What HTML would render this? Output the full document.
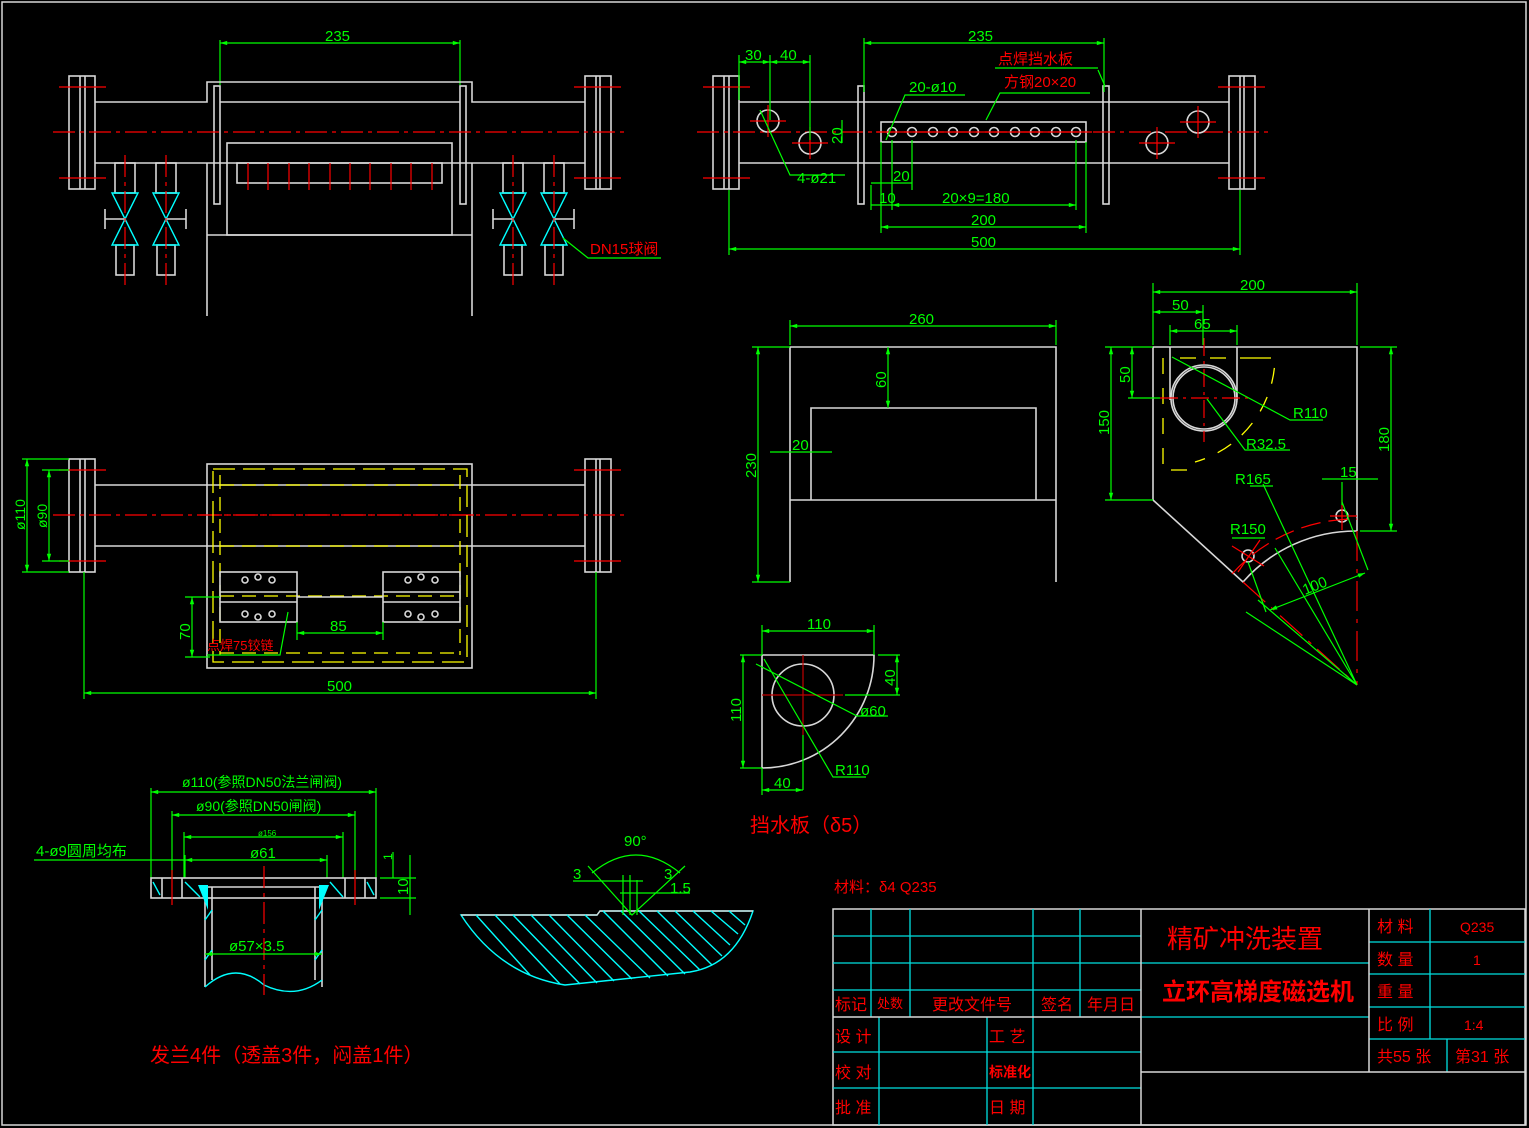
<!DOCTYPE html>
<html><head><meta charset="utf-8"><style>
html,body{margin:0;padding:0;background:#000;}
svg{display:block}
text{font-family:"Liberation Sans","Noto Sans CJK SC",sans-serif;}
.w{stroke:#d8d8d8;fill:none;stroke-width:1.6}
.g{stroke:#00ff00;fill:none;stroke-width:1.2}
.r{stroke:#ff0000;fill:none;stroke-width:1.2;stroke-dasharray:22,5,4,5}
.rs{stroke:#ff0000;fill:none;stroke-width:1.2}
.c{stroke:#00ffff;fill:none;stroke-width:1.4}
.y{stroke:#ffff00;fill:none;stroke-width:1.3;stroke-dasharray:14,8}
.gt{fill:#00ff00;font-size:15px}
.rt{fill:#ff0000;font-size:16px}
</style></head><body>
<svg width="1529" height="1128" viewBox="0 0 1529 1128" xmlns="http://www.w3.org/2000/svg">
<defs>
<marker id="a" viewBox="0 0 10 10" refX="10" refY="5" markerWidth="10" markerHeight="6" orient="auto-start-reverse"><path d="M0,2 L10,5 L0,8z" fill="#00ff00"/></marker>
</defs>
<rect x="2" y="2" width="1524" height="1123" fill="none" stroke="#d8d8d8" stroke-width="1.5"/>

<!-- ===== TOP LEFT VIEW ===== -->
<g>
<line class="g" x1="220" y1="40" x2="220" y2="85"/><line class="g" x1="460" y1="40" x2="460" y2="85"/>
<line class="g" x1="220" y1="43" x2="460" y2="43" marker-start="url(#a)" marker-end="url(#a)"/>
<text class="gt" x="325" y="41">235</text>
<rect class="w" x="69" y="76" width="26" height="113"/><line class="w" x1="80" y1="76" x2="80" y2="189"/><line class="w" x1="85" y1="76" x2="85" y2="189"/>
<rect class="w" x="585" y="76" width="26" height="113"/><line class="w" x1="596" y1="76" x2="596" y2="189"/><line class="w" x1="600" y1="76" x2="600" y2="189"/>
<line class="rs" x1="59" y1="87" x2="106" y2="87"/><line class="rs" x1="59" y1="178" x2="106" y2="178"/>
<line class="rs" x1="574" y1="87" x2="621" y2="87"/><line class="rs" x1="574" y1="178" x2="621" y2="178"/>
<path class="w" d="M95,102 H207 V82 H472 V102 H585 M95,163 H585"/>
<line class="w" x1="220" y1="102" x2="460" y2="102"/>
<rect class="w" x="214" y="86" width="6" height="118"/><rect class="w" x="460" y="86" width="6" height="118"/>
<line class="r" x1="53" y1="132" x2="627" y2="132"/>
<rect class="w" x="227" y="143" width="225" height="92"/>
<rect class="w" x="237" y="163" width="205" height="20"/>
<g class="rs"><line x1="248" y1="163" x2="248" y2="190"/><line x1="268" y1="163" x2="268" y2="190"/><line x1="289" y1="163" x2="289" y2="190"/><line x1="309" y1="163" x2="309" y2="190"/><line x1="330" y1="163" x2="330" y2="190"/><line x1="350" y1="163" x2="350" y2="190"/><line x1="370" y1="163" x2="370" y2="190"/><line x1="391" y1="163" x2="391" y2="190"/><line x1="411" y1="163" x2="411" y2="190"/><line x1="432" y1="163" x2="432" y2="190"/></g>
<path class="w" d="M207,163 V316 M472,163 V316 M207,235 H472"/>
<g>
<rect class="w" x="115" y="163" width="20" height="30"/><rect class="w" x="116" y="245" width="18" height="30"/>
<path class="c" d="M112,193 H138 L112,245 H138 Z"/>
<line class="w" x1="105" y1="219" x2="125" y2="219"/><line class="w" x1="105" y1="209" x2="105" y2="229"/>
<line class="r" x1="125" y1="155" x2="125" y2="285"/>
</g>
<g transform="translate(41,0)"><rect class="w" x="115" y="163" width="20" height="30"/><rect class="w" x="116" y="245" width="18" height="30"/><path class="c" d="M112,193 H138 L112,245 H138 Z"/><line class="w" x1="125" y1="219" x2="145" y2="219"/><line class="w" x1="145" y1="209" x2="145" y2="229"/><line class="r" x1="125" y1="155" x2="125" y2="285"/></g>
<g transform="translate(388,0)"><rect class="w" x="115" y="163" width="20" height="30"/><rect class="w" x="116" y="245" width="18" height="30"/><path class="c" d="M112,193 H138 L112,245 H138 Z"/><line class="w" x1="105" y1="219" x2="125" y2="219"/><line class="w" x1="105" y1="209" x2="105" y2="229"/><line class="r" x1="125" y1="155" x2="125" y2="285"/></g>
<g transform="translate(429,0)"><rect class="w" x="115" y="163" width="20" height="30"/><rect class="w" x="116" y="245" width="18" height="30"/><path class="c" d="M112,193 H138 L112,245 H138 Z"/><line class="w" x1="125" y1="219" x2="145" y2="219"/><line class="w" x1="145" y1="209" x2="145" y2="229"/><line class="r" x1="125" y1="155" x2="125" y2="285"/></g>
<path class="g" d="M563,238 L588,258 H661"/>
<text class="rt" x="590" y="254" style="font-size:15px">DN15球阀</text>
</g>

<!-- ===== TOP RIGHT VIEW ===== -->
<g>
<rect class="w" x="713" y="76" width="26" height="113"/><line class="w" x1="724" y1="76" x2="724" y2="189"/><line class="w" x1="729" y1="76" x2="729" y2="189"/>
<rect class="w" x="1229" y="76" width="26" height="113"/><line class="w" x1="1240" y1="76" x2="1240" y2="189"/><line class="w" x1="1244" y1="76" x2="1244" y2="189"/>
<line class="rs" x1="703" y1="87" x2="750" y2="87"/><line class="rs" x1="703" y1="178" x2="750" y2="178"/>
<line class="rs" x1="1218" y1="87" x2="1265" y2="87"/><line class="rs" x1="1218" y1="178" x2="1265" y2="178"/>
<path class="w" d="M739,102 H1229 M739,163 H1229"/>
<rect class="w" x="858" y="86" width="6" height="118"/><rect class="w" x="1103" y="86" width="6" height="118"/>
<line class="r" x1="697" y1="132" x2="1271" y2="132"/>
<circle class="w" cx="768" cy="121" r="11"/><circle class="w" cx="810" cy="143" r="11"/><circle class="w" cx="1157" cy="143" r="11"/><circle class="w" cx="1198" cy="122" r="11"/>
<g class="rs"><line x1="750" y1="121" x2="786" y2="121"/><line x1="768" y1="105" x2="768" y2="137"/><line x1="792" y1="143" x2="828" y2="143"/><line x1="810" y1="127" x2="810" y2="159"/><line x1="1139" y1="143" x2="1175" y2="143"/><line x1="1157" y1="127" x2="1157" y2="159"/><line x1="1180" y1="122" x2="1216" y2="122"/><line x1="1198" y1="106" x2="1198" y2="138"/></g>
<rect class="w" x="881" y="122" width="205" height="20"/>
<g class="w"><circle cx="892" cy="132" r="4.5"/><circle cx="912" cy="132" r="4.5"/><circle cx="933" cy="132" r="4.5"/><circle cx="953" cy="132" r="4.5"/><circle cx="974" cy="132" r="4.5"/><circle cx="994" cy="132" r="4.5"/><circle cx="1015" cy="132" r="4.5"/><circle cx="1035" cy="132" r="4.5"/><circle cx="1056" cy="132" r="4.5"/><circle cx="1076" cy="132" r="4.5"/></g>
<line class="rs" x1="876" y1="132" x2="1092" y2="132"/>
<path class="g" d="M864,38 V92 M1104,38 V92"/>
<line class="g" x1="864" y1="43" x2="1104" y2="43" marker-start="url(#a)" marker-end="url(#a)"/>
<text class="gt" x="968" y="41">235</text>
<path class="g" d="M739,55 V100 M770,55 V120 M810,55 V140"/>
<line class="g" x1="739" y1="62" x2="770" y2="62" marker-start="url(#a)" marker-end="url(#a)"/>
<line class="g" x1="770" y1="62" x2="810" y2="62" marker-start="url(#a)" marker-end="url(#a)"/>
<text class="gt" x="745" y="60">30</text><text class="gt" x="780" y="60">40</text>
<line class="g" x1="842" y1="120" x2="842" y2="143"/>
<text class="gt" x="0" y="0" transform="translate(842,144) rotate(-90)">20</text>
<path class="g" d="M760,110 L790,175 H845"/><text class="gt" x="797" y="183">4-ø21</text>
<path class="g" d="M886,140 L905,95 H965"/><text class="gt" x="909" y="92">20-ø10</text>
<path class="g" d="M986,120 L1000,93 H1090"/><text class="rt" x="1004" y="87" style="font-size:15px">方钢20×20</text>
<path class="g" d="M1098,70 L1105,86 M995,68 H1098"/><text class="rt" x="998" y="64" style="font-size:15px">点焊挡水板</text>
<path class="g" d="M729,190 V255 M1240,190 V255 M881,142 V233 M1086,142 V233 M892,140 V210 M1076,140 V210 M871,185 V210 M912,140 V190"/>
<line class="g" x1="729" y1="249" x2="1240" y2="249" marker-start="url(#a)" marker-end="url(#a)"/><text class="gt" x="971" y="247">500</text>
<line class="g" x1="881" y1="227" x2="1086" y2="227" marker-start="url(#a)" marker-end="url(#a)"/><text class="gt" x="971" y="225">200</text>
<line class="g" x1="892" y1="205" x2="1076" y2="205" marker-start="url(#a)" marker-end="url(#a)"/><text class="gt" x="942" y="203">20×9=180</text>
<line class="g" x1="871" y1="205" x2="892" y2="205"/><text class="gt" x="879" y="203">10</text>
<line class="g" x1="871" y1="183" x2="912" y2="183"/><text class="gt" x="893" y="181">20</text>
</g>

<!-- ===== MIDDLE LEFT VIEW ===== -->
<g>
<rect class="w" x="69" y="459" width="26" height="113"/><line class="w" x1="80" y1="459" x2="80" y2="572"/><line class="w" x1="85" y1="459" x2="85" y2="572"/>
<rect class="w" x="585" y="459" width="26" height="113"/><line class="w" x1="596" y1="459" x2="596" y2="572"/><line class="w" x1="600" y1="459" x2="600" y2="572"/>
<line class="rs" x1="59" y1="470" x2="106" y2="470"/><line class="rs" x1="59" y1="561" x2="106" y2="561"/>
<line class="rs" x1="574" y1="470" x2="621" y2="470"/><line class="rs" x1="574" y1="561" x2="621" y2="561"/>
<path class="w" d="M95,485 H585 M95,546 H585"/>
<line class="r" x1="53" y1="515" x2="627" y2="515"/>
<rect class="w" x="207" y="464" width="265" height="204" fill="#000"/>
<line class="r" x1="200" y1="515" x2="480" y2="515"/>
<rect class="y" x="213" y="469" width="254" height="193" style="stroke-dasharray:22,8"/>
<path class="y" d="M220,485 H460 M220,546 H460 M220,596 H460 M220,653 H460 M220,475 V655 M460,475 V655"/>
<rect class="w" x="220" y="572" width="77" height="50" fill="#000"/><line class="w" x1="220" y1="592" x2="297" y2="592"/><line class="w" x1="220" y1="602" x2="297" y2="602"/>
<rect class="w" x="383" y="572" width="77" height="50" fill="#000"/><line class="w" x1="383" y1="592" x2="460" y2="592"/><line class="w" x1="383" y1="602" x2="460" y2="602"/>
<g class="w" stroke-width="1.2"><circle cx="245" cy="580" r="3"/><circle cx="258" cy="577" r="3"/><circle cx="272" cy="580" r="3"/><circle cx="245" cy="614" r="3"/><circle cx="258" cy="617" r="3"/><circle cx="272" cy="614" r="3"/>
<circle cx="408" cy="580" r="3"/><circle cx="421" cy="577" r="3"/><circle cx="435" cy="580" r="3"/><circle cx="408" cy="614" r="3"/><circle cx="421" cy="617" r="3"/><circle cx="435" cy="614" r="3"/></g>
<line class="w" x1="297" y1="597" x2="383" y2="597"/>
<path class="g" d="M297,622 V640 M383,622 V640"/>
<line class="g" x1="297" y1="633" x2="383" y2="633" marker-start="url(#a)" marker-end="url(#a)"/><text class="gt" x="330" y="631">85</text>
<path class="g" d="M185,597 H220 M185,657 H210"/>
<line class="g" x1="192" y1="597" x2="192" y2="657" marker-start="url(#a)" marker-end="url(#a)"/>
<text class="gt" transform="translate(190,640) rotate(-90)">70</text>
<path class="g" d="M288,612 L280,655 H207"/><text class="rt" x="207" y="650" style="font-size:13px">点焊75铰链</text>
<path class="g" d="M84,572 V699 M596,572 V699"/>
<line class="g" x1="84" y1="693" x2="596" y2="693" marker-start="url(#a)" marker-end="url(#a)"/><text class="gt" x="327" y="691">500</text>
<path class="g" d="M22,459 H69 M42,470 H69 M42,561 H69 M22,572 H69"/>
<line class="g" x1="27" y1="459" x2="27" y2="572" marker-start="url(#a)" marker-end="url(#a)"/>
<line class="g" x1="49" y1="470" x2="49" y2="561" marker-start="url(#a)" marker-end="url(#a)"/>
<text class="gt" style="font-size:14px" transform="translate(25,530) rotate(-90)">ø110</text>
<text class="gt" style="font-size:14px" transform="translate(47,528) rotate(-90)">ø90</text>
</g>

<!-- ===== 挡水板 front ===== -->
<g>
<path class="w" d="M790,582 V347 H1056 V582 M790,500 H1056"/>
<path class="w" d="M811,500 V408 H1036 V500"/>
<path class="g" d="M790,320 V345 M1056,320 V345 M752,347 H790 M752,582 H790"/>
<line class="g" x1="790" y1="326" x2="1056" y2="326" marker-start="url(#a)" marker-end="url(#a)"/><text class="gt" x="909" y="324">260</text>
<line class="g" x1="758" y1="347" x2="758" y2="582" marker-start="url(#a)" marker-end="url(#a)"/>
<text class="gt" transform="translate(756,478) rotate(-90)">230</text>
<line class="g" x1="888" y1="347" x2="888" y2="408" marker-start="url(#a)" marker-end="url(#a)"/>
<text class="gt" transform="translate(886,388) rotate(-90)">60</text>
<line class="g" x1="770" y1="452" x2="832" y2="452"/><text class="gt" x="792" y="450">20</text>
</g>

<!-- ===== quarter plate ===== -->
<g>
<path class="w" d="M762,768 V655 H874 A112,113 0 0 1 762,768"/>
<circle class="w" cx="803" cy="695" r="31"/>
<path class="rs" d="M762,695 H843 M803,655 V735" style="stroke:#c00000"/>
<path class="g" d="M803,735 V790 M762,768 V795 M874,625 V655 M762,625 V655 M740,655 H762 M740,768 H762 M878,655 H900 M845,695 H900"/>
<line class="g" x1="762" y1="631" x2="874" y2="631" marker-start="url(#a)" marker-end="url(#a)"/><text class="gt" x="807" y="629">110</text>
<line class="g" x1="743" y1="655" x2="743" y2="768" marker-start="url(#a)" marker-end="url(#a)"/><text class="gt" transform="translate(741,722) rotate(-90)">110</text>
<line class="g" x1="897" y1="655" x2="897" y2="695" marker-start="url(#a)" marker-end="url(#a)"/><text class="gt" transform="translate(895,686) rotate(-90)">40</text>
<line class="g" x1="762" y1="790" x2="803" y2="790" marker-start="url(#a)" marker-end="url(#a)"/><text class="gt" x="774" y="788">40</text>
<path class="g" d="M756,664 L857,716 H888"/><text class="gt" x="860" y="716">ø60</text>
<path class="g" d="M764,659 L833,777 H866"/><text class="gt" x="835" y="775">R110</text>
<text class="rt" x="750" y="832" style="font-size:20px">挡水板（δ5）</text>
</g>

<!-- ===== side plate (far right) ===== -->
<g>
<path class="w" d="M1357,531 V347 H1153 V500 L1243,582 A150,150 0 0 1 1357,531"/>
<line class="w" x1="1170" y1="347" x2="1170" y2="400"/><line class="w" x1="1237" y1="347" x2="1237" y2="400"/>
<circle class="w" cx="1204" cy="398" r="31"/><circle class="w" cx="1204" cy="398" r="33"/>
<path class="y" d="M1163,358 V470 H1188 M1180,358 H1255 M1255,358 L1275,358 A110,110 0 0 1 1195,462" style="stroke-dasharray:16,14"/>
<path class="rs" d="M1160,398 H1250 M1204,338 V442" style="stroke-dasharray:18,5,3,5"/>
<circle class="w" cx="1248" cy="556" r="6"/><circle class="w" cx="1342" cy="516" r="6"/>
<path class="rs" d="M1232,546 L1264,566 M1238,572 L1260,540 M1330,516 H1357 M1342,500 V530"/>
<path class="rs" d="M1232,574 A165,165 0 0 1 1357,519" style="stroke-dasharray:20,8"/>
<path class="rs" d="M1243,582 L1357,685 M1357,531 V685" style="stroke-dasharray:30,8,4,8"/>
<path class="g" d="M1357,685 L1275,548 M1357,685 L1263,484 M1357,685 L1258,600 M1357,685 L1246,612"/>
<path class="g" d="M1250,486 H1273 M1232,538 H1265"/><text class="gt" x="1235" y="484">R165</text><text class="gt" x="1230" y="534">R150</text>
<line class="g" x1="1270" y1="610" x2="1365" y2="573" marker-start="url(#a)" marker-end="url(#a)"/><text class="gt" transform="translate(1305,595) rotate(-22)">100</text>
<path class="g" d="M1342,502 L1368,570 M1266,612 L1248,562"/>
<path class="g" d="M1153,283 V345 M1357,283 V345 M1203,305 V345 M1170,325 V345 M1237,325 V345"/>
<line class="g" x1="1153" y1="292" x2="1357" y2="292" marker-start="url(#a)" marker-end="url(#a)"/><text class="gt" x="1240" y="290">200</text>
<line class="g" x1="1153" y1="312" x2="1203" y2="312" marker-start="url(#a)" marker-end="url(#a)"/><text class="gt" x="1172" y="310">50</text>
<line class="g" x1="1170" y1="331" x2="1237" y2="331" marker-start="url(#a)" marker-end="url(#a)"/><text class="gt" x="1194" y="329">65</text>
<path class="g" d="M1105,347 H1153 M1128,398 H1160 M1105,500 H1153 M1360,347 H1397 M1360,531 H1397 M1322,479 H1378 M1342,482 V505"/>
<line class="g" x1="1111" y1="347" x2="1111" y2="500" marker-start="url(#a)" marker-end="url(#a)"/><text class="gt" transform="translate(1109,435) rotate(-90)">150</text>
<line class="g" x1="1132" y1="347" x2="1132" y2="398" marker-start="url(#a)" marker-end="url(#a)"/><text class="gt" transform="translate(1130,383) rotate(-90)">50</text>
<line class="g" x1="1391" y1="347" x2="1391" y2="531" marker-start="url(#a)" marker-end="url(#a)"/><text class="gt" transform="translate(1389,452) rotate(-90)">180</text>
<text class="gt" x="1340" y="477">15</text>
<path class="g" d="M1172,357 L1260,404 L1290,420 H1323"/><text class="gt" x="1293" y="418">R110</text>
<path class="g" d="M1207,399 L1245,450 H1290"/><text class="gt" x="1246" y="449">R32.5</text>
</g>

<!-- ===== flange section ===== -->
<g>
<path class="g" d="M151,788 V878 M376,788 V878 M172,811 V878 M355,811 V878 M184,832 V878 M343,832 V878 M185,855 V878 M327,855 V878"/>
<line class="g" x1="151" y1="792" x2="376" y2="792" marker-start="url(#a)" marker-end="url(#a)"/><text class="gt" x="182" y="787" style="font-size:14px">ø110(参照DN50法兰闸阀)</text>
<line class="g" x1="172" y1="815" x2="355" y2="815" marker-start="url(#a)" marker-end="url(#a)"/><text class="gt" x="196" y="811" style="font-size:14px">ø90(参照DN50闸阀)</text>
<line class="g" x1="184" y1="837" x2="343" y2="837" marker-start="url(#a)" marker-end="url(#a)"/><text class="gt" x="258" y="836" style="font-size:8px">ø156</text>
<line class="g" x1="185" y1="860" x2="327" y2="860" marker-start="url(#a)" marker-end="url(#a)"/><text class="gt" x="250" y="858">ø61</text>
<line class="g" x1="34" y1="860" x2="185" y2="860"/><text class="gt" x="36" y="856">4-ø9圆周均布</text>
<rect class="w" x="151" y="878" width="225" height="20"/>
<line class="w" x1="162" y1="878" x2="162" y2="898"/><line class="w" x1="365" y1="878" x2="365" y2="898"/>
<line class="w" x1="182" y1="878" x2="182" y2="898"/><line class="w" x1="345" y1="878" x2="345" y2="898"/>
<line class="rs" x1="172" y1="870" x2="172" y2="905"/><line class="rs" x1="355" y1="870" x2="355" y2="905"/>
<path class="w" d="M205,887 V987 M322,887 V987 M212,887 V980 M315,887 V980 M205,887 H322"/>
<path class="c" d="M205,987 Q235,960 264,985 Q295,1000 322,980"/>
<path d="M198,885 L208,885 L208,910 Z" fill="#00ffff"/><path d="M329,885 L319,885 L319,910 Z" fill="#00ffff"/>
<g class="c" stroke-width="1"><line x1="185" y1="882" x2="200" y2="897"/><line x1="330" y1="882" x2="343" y2="897"/><line x1="153" y1="882" x2="160" y2="895"/><line x1="367" y1="882" x2="374" y2="895"/><line x1="205" y1="920" x2="212" y2="910"/><line x1="205" y1="960" x2="212" y2="950"/><line x1="315" y1="920" x2="322" y2="910"/><line x1="315" y1="960" x2="322" y2="950"/></g>
<line class="r" x1="264" y1="866" x2="264" y2="995"/>
<line class="g" x1="205" y1="954" x2="322" y2="954" marker-start="url(#a)" marker-end="url(#a)"/><text class="gt" x="229" y="951">ø57×3.5</text>
<path class="g" d="M380,878 H416 M380,898 H416 M393,852 V878 M410,855 V915"/>
<text class="gt" style="font-size:12px" transform="translate(392,860) rotate(-90)">1</text>
<text class="gt" transform="translate(408,895) rotate(-90)">10</text>
<text class="rt" x="150" y="1062" style="font-size:20px">发兰4件（透盖3件，闷盖1件）</text>
</g>

<!-- ===== weld detail ===== -->
<g>
<path class="c" d="M461,915 H597 L600,911 H753 Q735,965 690,972 L565,985 Q500,975 461,915 Z" fill="none"/>
<path d="M461,915 H597 L600,911 H753" stroke="#d8d8d8" stroke-width="1.4" fill="none"/>
<g class="c" stroke-width="1">
<line x1="476" y1="915" x2="530" y2="975"/><line x1="495" y1="915" x2="560" y2="984"/><line x1="513" y1="915" x2="580" y2="984"/><line x1="531" y1="915" x2="597" y2="983"/><line x1="549" y1="915" x2="614" y2="981"/><line x1="567" y1="915" x2="632" y2="979"/><line x1="585" y1="915" x2="650" y2="978"/><line x1="603" y1="911" x2="668" y2="976"/><line x1="621" y1="911" x2="685" y2="974"/><line x1="639" y1="911" x2="700" y2="970"/><line x1="657" y1="911" x2="712" y2="965"/><line x1="675" y1="911" x2="722" y2="956"/><line x1="693" y1="911" x2="730" y2="945"/><line x1="711" y1="911" x2="738" y2="934"/><line x1="729" y1="911" x2="745" y2="925"/></g>
<path class="g" d="M588,866 L632,915 L685,866 M592,873 Q636,837 680,873"/>
<text class="gt" x="624" y="846">90°</text>
<path class="g" d="M573,881 H643 M620,893 H690 M623,875 V915 M630,875 V915 M637,880 V915"/>
<text class="gt" x="573" y="879">3</text><text class="gt" x="664" y="879">3</text><text class="gt" x="670" y="893">1.5</text>
</g>

<text class="rt" x="834" y="892" style="font-size:15px">材料：δ4  Q235</text>

<!-- ===== title block ===== -->
<g>
<rect x="833" y="909" width="692" height="216" fill="none" stroke="#d8d8d8" stroke-width="1.5"/>
<g stroke="#00e0e0" stroke-width="1.3" fill="none">
<path d="M833,936 H1141 M833,963 H1141 M833,990 H1141 M871,909 V1017 M910,909 V1017 M1033,909 V1017 M1080,909 V1017"/>
<path d="M833,1052 H1141 M833,1088 H1141 M879,1017 V1125 M987,1017 V1125 M1033,1017 V1125"/>
<path d="M1141,963 H1369 M1141,1017 H1369"/>
<path d="M1369,942 H1525 M1369,974 H1525 M1369,1007 H1525 M1369,1039 H1525 M1430,909 V1039 M1447,1039 V1072"/>
</g>
<g stroke="#d8d8d8" stroke-width="1.5" fill="none"><path d="M833,1017 H1141 M1141,909 V1125 M1141,1072 H1525 M1369,909 V1072"/></g>
<g fill="#ff0000" style="font-size:16px">
<text x="835" y="1010">标记</text><text x="877" y="1008" style="font-size:13px">处数</text><text x="932" y="1010">更改文件号</text><text x="1041" y="1010">签名</text><text x="1087" y="1010">年月日</text>
<text x="835" y="1042">设 计</text><text x="989" y="1042">工 艺</text>
<text x="835" y="1078">校 对</text><text x="989" y="1077" style="font-size:14px;font-weight:bold">标准化</text>
<text x="835" y="1113">批 准</text><text x="989" y="1113">日 期</text>
<text x="1167" y="948" style="font-size:26px">精矿冲洗装置</text>
<text x="1162" y="1000" style="font-size:24px;font-weight:bold">立环高梯度磁选机</text>
<text x="1377" y="932">材 料</text><text x="1460" y="932" style="font-size:14px">Q235</text>
<text x="1377" y="965">数 量</text><text x="1473" y="965" style="font-size:14px">1</text>
<text x="1377" y="997">重 量</text>
<text x="1377" y="1030">比 例</text><text x="1464" y="1030" style="font-size:14px">1:4</text>
<text x="1377" y="1062">共55 张</text><text x="1455" y="1062">第31 张</text>
</g>
</g>
</svg>
</body></html>
